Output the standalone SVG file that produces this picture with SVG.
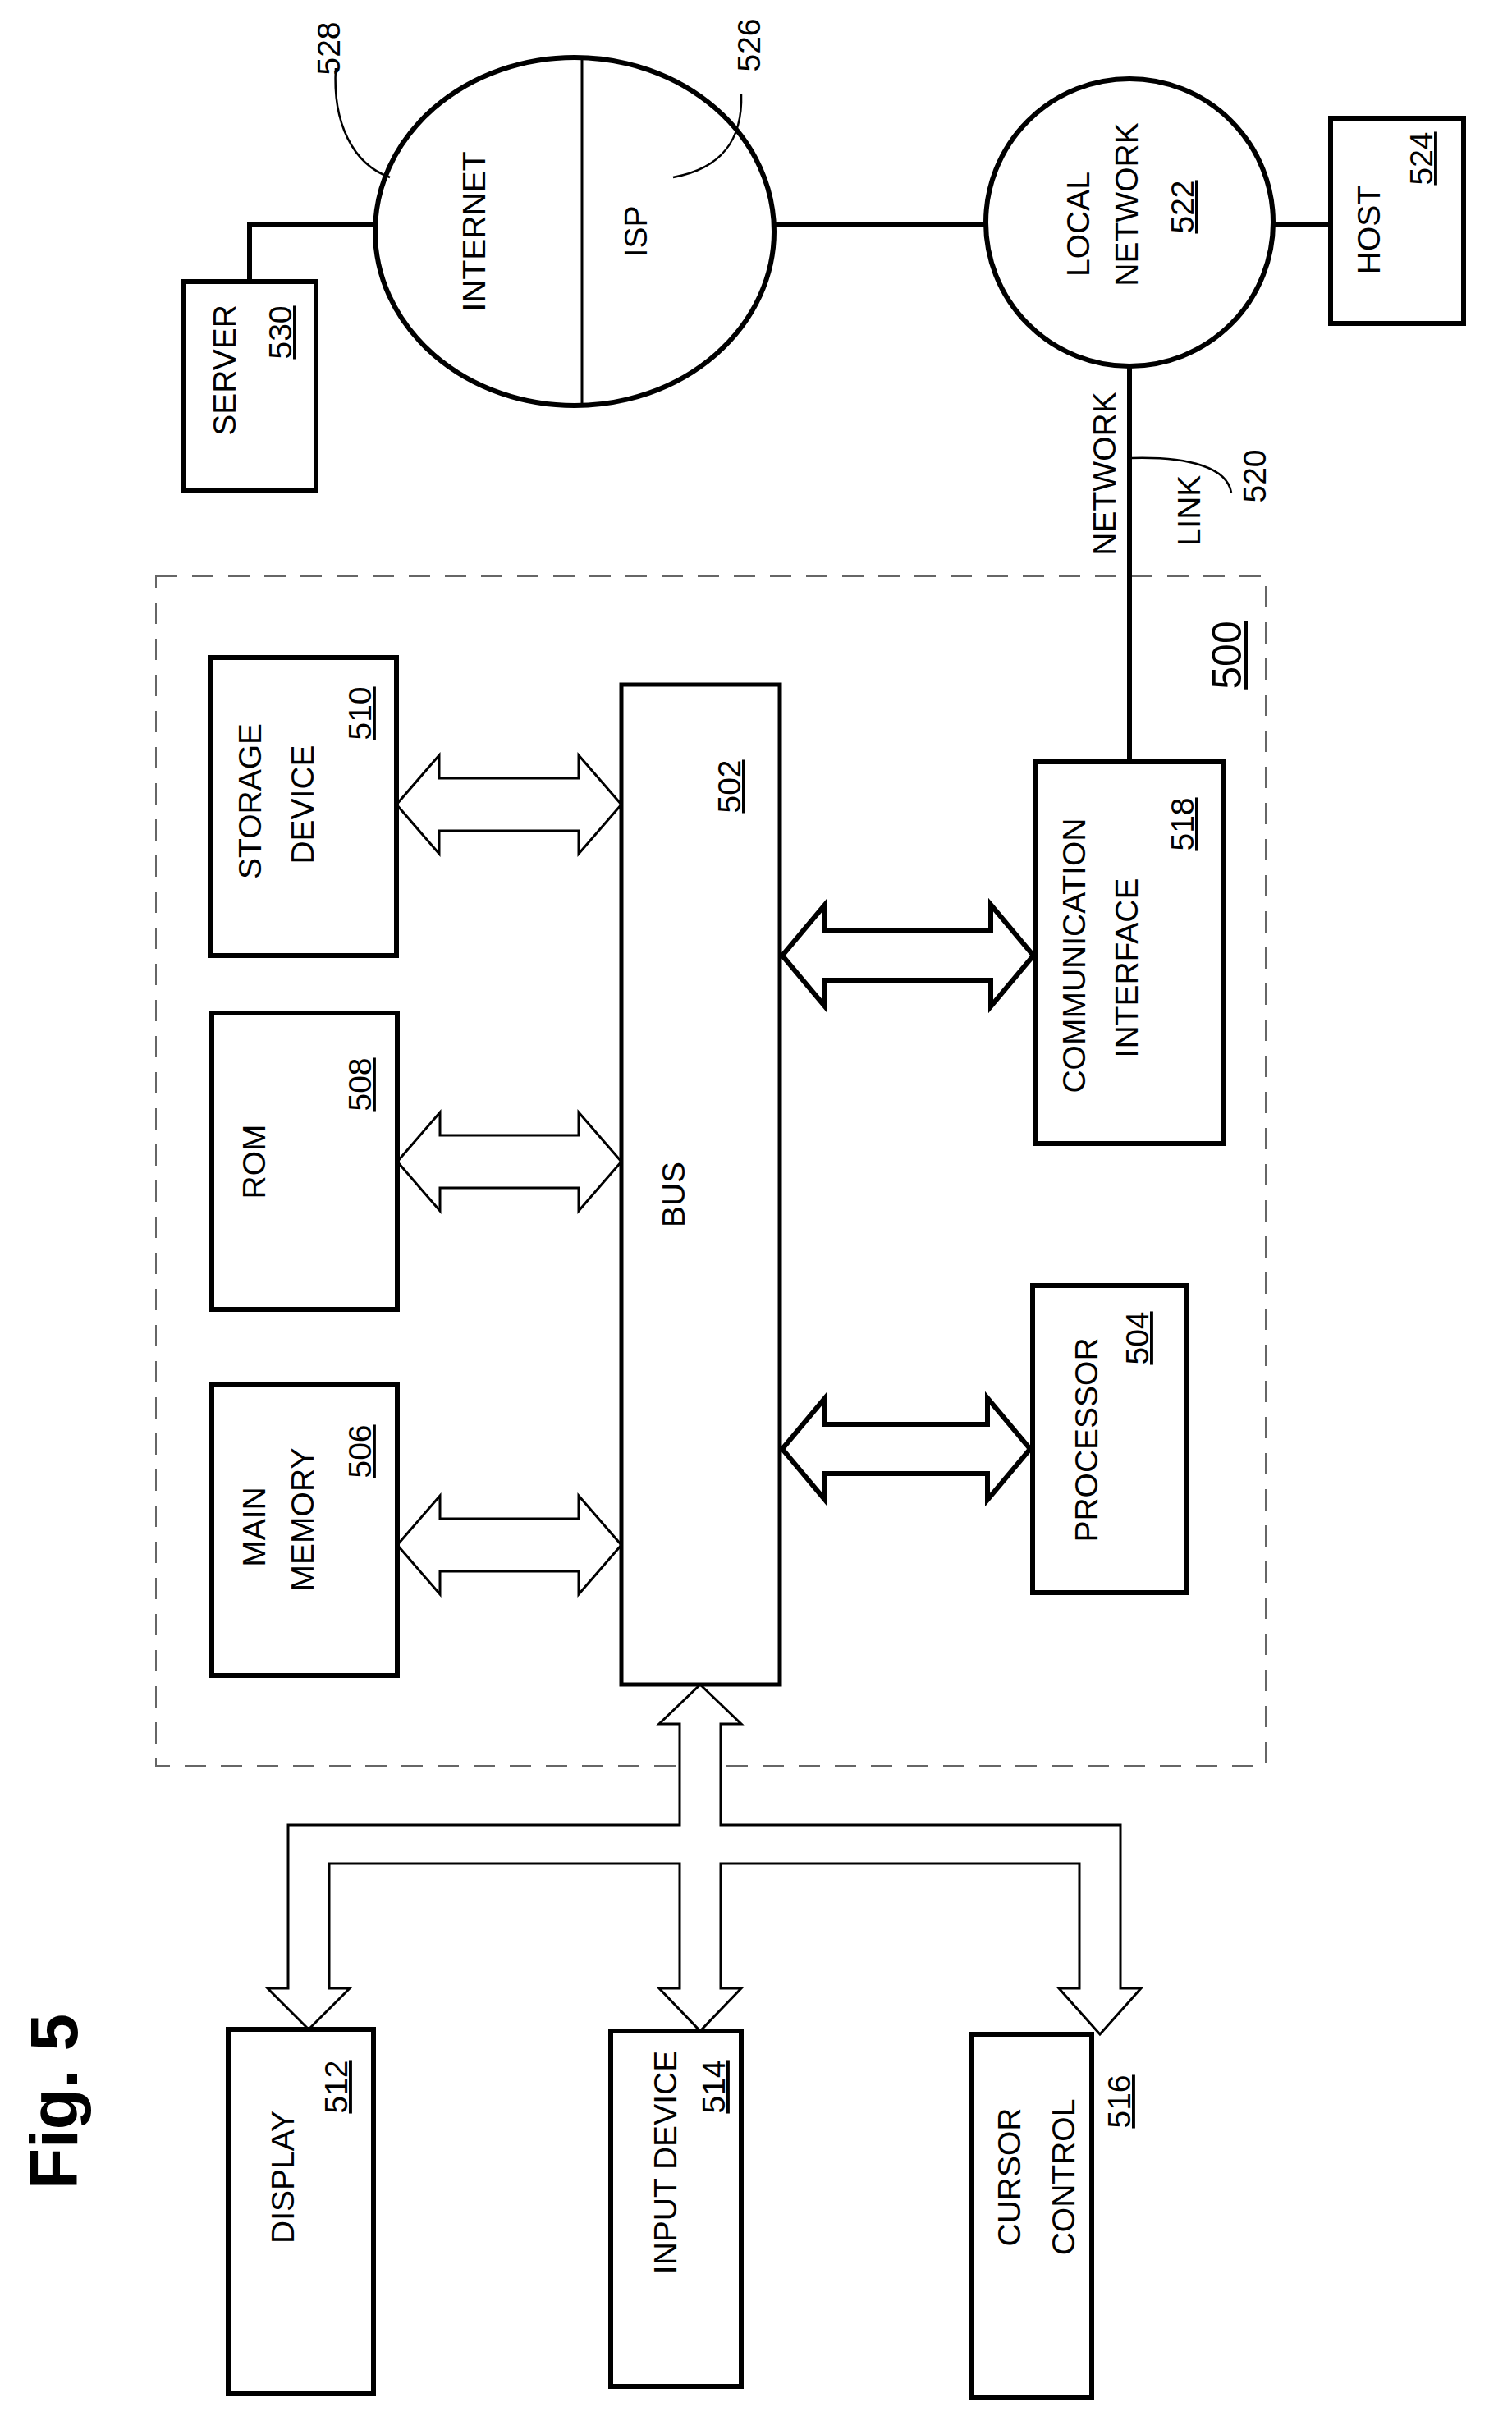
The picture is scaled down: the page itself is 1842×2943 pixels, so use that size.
<svg xmlns="http://www.w3.org/2000/svg" width="1842" height="2943" viewBox="0 0 1842 2943">
<style>
.b{fill:none;stroke:#000;stroke-width:6}
.t{font-family:"Liberation Sans",Arial,sans-serif;font-size:39px;fill:#000;text-anchor:middle}
.u{text-decoration:underline}
.ar{fill:#fff;stroke:#000;stroke-width:3;stroke-linejoin:miter}
.ak{fill:#fff;stroke:#000;stroke-width:6}
.ln{fill:none;stroke:#000;stroke-width:6}
.ld{fill:none;stroke:#000;stroke-width:2.5}
</style>
<rect width="1842" height="2943" fill="#fff"/>
<g id="system500">
<rect x="190" y="702" width="1352" height="1449" fill="none" stroke="#666" stroke-width="2" stroke-dasharray="26,18"/>
<text class="t u" style="font-size:50px" transform="translate(1512,798) rotate(-90)">500</text>
</g>
<g id="connectors">
<path class="ln" d="M304,343 V274 H457"/>
<path class="ln" d="M943,274 H1201"/>
<path class="ln" d="M1551,274 H1621"/>
<path class="ln" d="M1376,446 V928"/>
<path class="ld" d="M409,83 C405,150 430,200 475,216"/>
<path class="ld" d="M903,114 C905,170 880,205 820,216"/>
<path class="ld" d="M1378,558 C1450,556 1495,570 1500,600"/>
<path class="ar" d="M483,980 l52,-60 v28 h170 v-28 l52,60 l-52,60 v-28 h-170 v28 z"/>
<path class="ar" d="M484,1415 l52,-60 v28 h169 v-28 l52,60 l-52,60 v-28 h-169 v28 z"/>
<path class="ar" d="M484,1882 l52,-60 v28 h169 v-28 l52,60 l-52,60 v-28 h-169 v28 z"/>
<path class="ak" d="M953,1164 l52,-62 v32 h202 v-32 l52,62 l-52,62 v-32 h-202 v32 z"/>
<path class="ak" d="M953,1765 l52,-62 v32 h198 v-32 l52,62 l-52,62 v-32 h-198 v32 z"/>
<path class="ar" d="M853,2052 L903,2100 L878,2100 L878,2223 L1365,2223 L1365,2422 L1390,2422 L1340,2478 L1290,2422 L1315,2422 L1315,2270 L878,2270 L878,2422 L903,2422 L853,2474 L803,2422 L828,2422 L828,2270 L401,2270 L401,2422 L426,2422 L376,2472 L326,2422 L351,2422 L351,2223 L828,2223 L828,2100 L803,2100 Z"/>
<text class="t" transform="translate(1359,577) rotate(-90)">NETWORK</text>
<text class="t" transform="translate(1462,622) rotate(-90)">LINK</text>
<text class="t" transform="translate(1542,580) rotate(-90)">520</text>
<text class="t" transform="translate(414,59) rotate(-90)">528</text>
<text class="t" transform="translate(926,55) rotate(-90)">526</text>
</g>
<g id="server530"><rect class="b" x="223" y="343" width="162" height="254"/>
<text class="t" transform="translate(287,451) rotate(-90)">SERVER</text>
<text class="t u" transform="translate(355,405) rotate(-90)">530</text></g>
<g id="internet528-isp526"><ellipse class="b" cx="700" cy="282" rx="243" ry="212"/>
<line x1="709" y1="71" x2="709" y2="493" stroke="#000" stroke-width="3"/>
<text class="t" transform="translate(591,282) rotate(-90)">INTERNET</text>
<text class="t" transform="translate(788,282) rotate(-90)">ISP</text></g>
<g id="localnetwork522"><ellipse class="b" cx="1376" cy="271" rx="175" ry="175"/>
<text class="t" transform="translate(1327,273) rotate(-90)">LOCAL</text>
<text class="t" transform="translate(1386,249) rotate(-90)">NETWORK</text>
<text class="t u" transform="translate(1454,252) rotate(-90)">522</text></g>
<g id="host524"><rect class="b" x="1621" y="144" width="162" height="250"/>
<text class="t" transform="translate(1681,280) rotate(-90)">HOST</text>
<text class="t u" transform="translate(1745,193) rotate(-90)">524</text></g>
<g id="storage510"><rect class="b" x="256" y="801" width="227" height="363"/>
<text class="t" transform="translate(318,976) rotate(-90)">STORAGE</text>
<text class="t" transform="translate(382,980) rotate(-90)">DEVICE</text>
<text class="t u" transform="translate(452,869) rotate(-90)">510</text></g>
<g id="rom508"><rect class="b" x="258" y="1234" width="226" height="361"/>
<text class="t" transform="translate(323,1415) rotate(-90)">ROM</text>
<text class="t u" transform="translate(452,1321) rotate(-90)">508</text></g>
<g id="mainmemory506"><rect class="b" x="258" y="1687" width="226" height="354"/>
<text class="t" transform="translate(323,1860) rotate(-90)">MAIN</text>
<text class="t" transform="translate(382,1851) rotate(-90)">MEMORY</text>
<text class="t u" transform="translate(452,1768) rotate(-90)">506</text></g>
<g id="bus502"><rect class="b" x="757" y="834" width="193" height="1218" style="stroke-width:5"/>
<text class="t" transform="translate(834,1455) rotate(-90)">BUS</text>
<text class="t u" transform="translate(902,958) rotate(-90)">502</text></g>
<g id="comm518"><rect class="b" x="1262" y="928" width="228" height="465"/>
<text class="t" transform="translate(1322,1164) rotate(-90)">COMMUNICATION</text>
<text class="t" transform="translate(1386,1179) rotate(-90)">INTERFACE</text>
<text class="t u" transform="translate(1454,1004) rotate(-90)">518</text></g>
<g id="processor504"><rect class="b" x="1258" y="1566" width="188" height="374"/>
<text class="t" transform="translate(1337,1754) rotate(-90)">PROCESSOR</text>
<text class="t u" transform="translate(1399,1630) rotate(-90)">504</text></g>
<g id="display512"><rect class="b" x="278" y="2472" width="177" height="444"/>
<text class="t" transform="translate(358,2652) rotate(-90)">DISPLAY</text>
<text class="t u" transform="translate(423,2542) rotate(-90)">512</text></g>
<g id="input514"><rect class="b" x="744" y="2474" width="159" height="433"/>
<text class="t" transform="translate(824,2634) rotate(-90)">INPUT DEVICE</text>
<text class="t u" transform="translate(883,2542) rotate(-90)">514</text></g>
<g id="cursor516"><rect class="b" x="1183" y="2478" width="147" height="442"/>
<text class="t" transform="translate(1243,2652) rotate(-90)">CURSOR</text>
<text class="t" transform="translate(1309,2652) rotate(-90)">CONTROL</text>
<text class="t u" transform="translate(1377,2560) rotate(-90)">516</text></g>
<text class="t" style="font-size:82px;font-weight:bold" transform="translate(94,2560) rotate(-90)">Fig. 5</text>
</svg>
